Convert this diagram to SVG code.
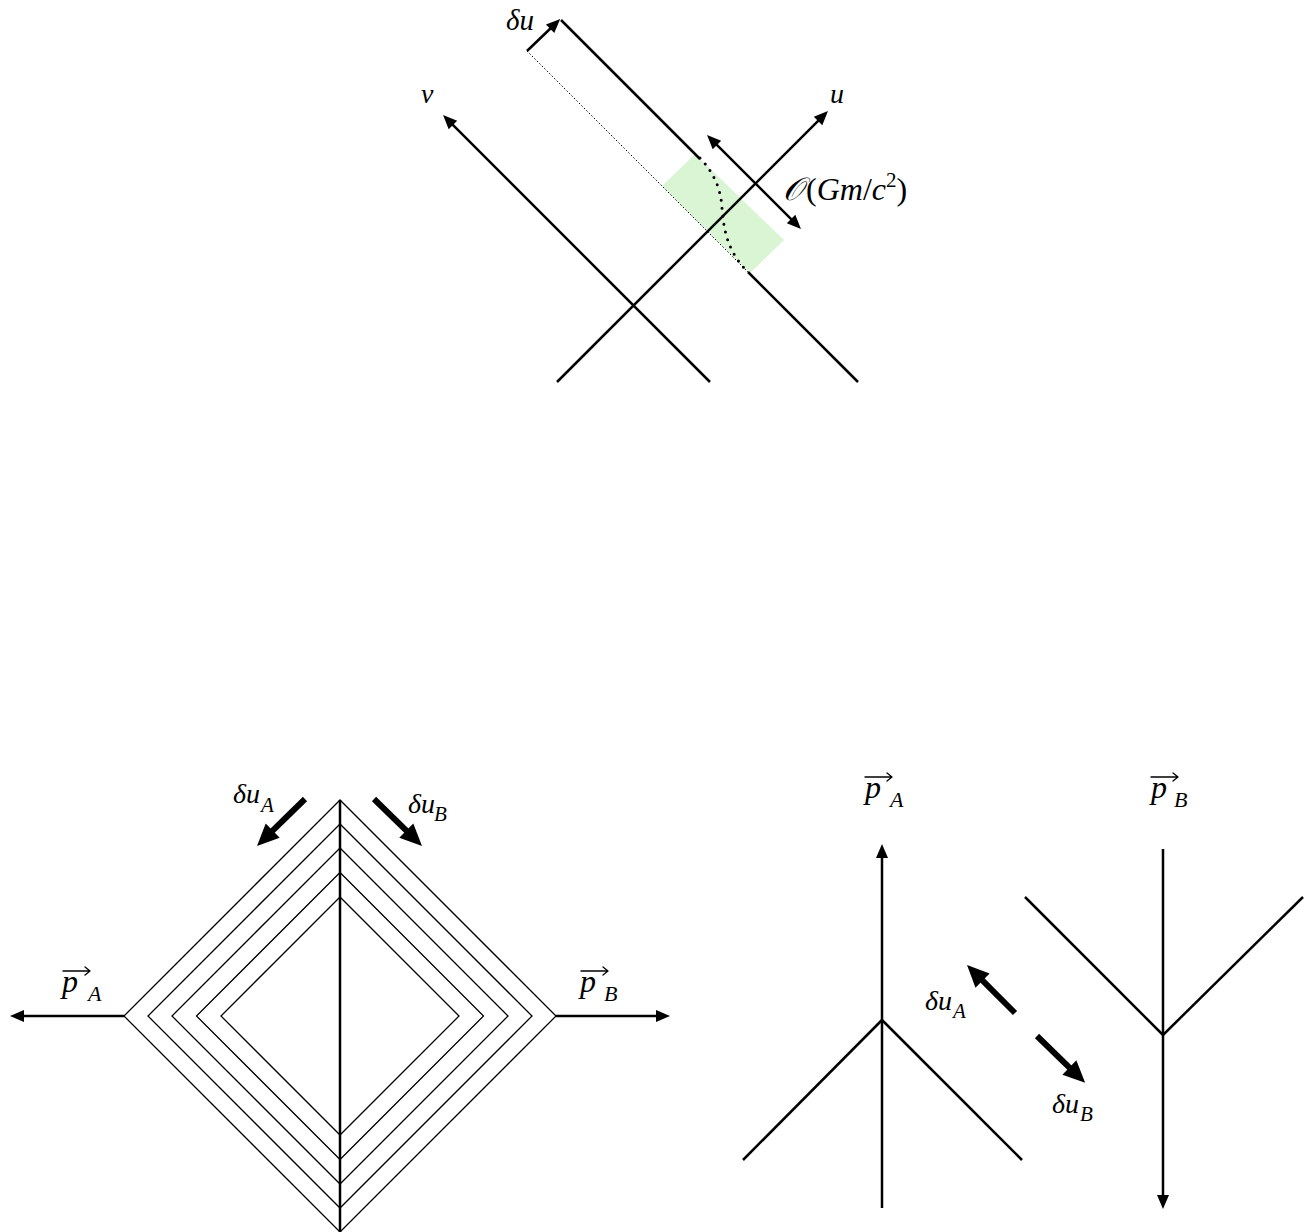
<svg xmlns="http://www.w3.org/2000/svg" width="1307" height="1232" viewBox="0 0 1307 1232">
<defs>
<style>
.ln{stroke:#000;stroke-width:2.5;fill:none}
.thin{stroke:#000;stroke-width:1.3;fill:none}
.thick{stroke:#000;stroke-width:6;fill:none}
.vec{stroke:#000;stroke-width:1.3;fill:none;stroke-linecap:round;stroke-linejoin:round}
.ar{marker-end:url(#ah)}
.tar{marker-end:url(#tah)}
.t{font-family:"Liberation Serif","DejaVu Serif",serif;font-style:italic;fill:#000}
.r{font-style:normal}
</style>
<marker id="ah" markerUnits="userSpaceOnUse" markerWidth="14" markerHeight="12" refX="4" refY="6" orient="auto-start-reverse" overflow="visible">
<path d="M0,0 L14,6 L0,12 Z" fill="#000"/>
</marker>
<marker id="tah" markerUnits="userSpaceOnUse" markerWidth="22" markerHeight="20" refX="8" refY="10" orient="auto" overflow="visible">
<path d="M0,0 L22,10 L0,20 Z" fill="#000"/>
</marker>
</defs>
<rect width="1307" height="1232" fill="#fff"/>

<g id="top-diagram">
<polygon id="green-region" points="695,154 784,240 750,273 662,186" fill="#daf5d4"/>
<g id="top-connectors">
<line class="ln ar" x1="557" y1="382" x2="820.9" y2="118.1"/>
<line class="ln ar" x1="710" y1="382" x2="450.1" y2="122.1"/>
<line class="ln" x1="561" y1="20" x2="700" y2="159"/>
<line class="ln" x1="748" y1="272" x2="858" y2="382"/>
<line x1="527" y1="51" x2="748" y2="272" stroke="#000" stroke-width="1" stroke-dasharray="1.5 2"/>
<path d="M700,158 C716,175 721,192 722,208 C724,232 728,252 748,272" fill="none" stroke="#000" stroke-width="3" stroke-linecap="round" stroke-dasharray="0 8"/>
<line class="ln ar" x1="527" y1="51" x2="553" y2="26"/>
<line class="ln ar" x1="714.1" y1="142.1" x2="793.9" y2="221.9" marker-start="url(#ah)"/>
</g>
<g id="top-labels">
<text class="t" x="506" y="30" font-size="29">δu</text>
<text class="t" x="830" y="103" font-size="28">u</text>
<text class="t" x="421" y="103" font-size="28">v</text>
<text class="t" x="783" y="200" font-size="32"><tspan>𝒪</tspan><tspan class="r" x="806">(</tspan>Gm<tspan class="r">/</tspan>c<tspan class="r" font-size="21" dy="-13">2</tspan><tspan class="r" dy="13">)</tspan></text>
</g>
</g>

<g id="left-diagram">
<g id="diamonds">
<polygon class="thin" points="340,800 124,1016 340,1232 556,1016"/>
<polygon class="thin" points="340,824 148,1016 340,1208 532,1016"/>
<polygon class="thin" points="340,848 172,1016 340,1184 508,1016"/>
<polygon class="thin" points="340,872.5 196.5,1016 340,1159.5 483.5,1016"/>
<polygon class="thin" points="340,897 221,1016 340,1135 459,1016"/>
</g>
<g id="left-connectors">
<line class="ln" x1="340" y1="800" x2="340" y2="1232" stroke-width="2.8"/>
<line class="ln ar" x1="124" y1="1016" x2="20" y2="1016"/>
<line class="ln ar" x1="556" y1="1016" x2="660" y2="1016"/>
<line class="thick tar" x1="305" y1="799" x2="267" y2="836.2"/>
<line class="thick tar" x1="374" y1="799" x2="412" y2="836.2"/>
</g>
<g id="left-labels">
<text class="t" x="233" y="803" font-size="28">δu<tspan x="261" y="812" font-size="21">A</tspan></text>
<text class="t" x="408" y="813" font-size="28">δu<tspan x="434" y="821" font-size="21">B</tspan></text>
<path class="vec" d="M63,971 H90 M85,967 L90,971 L85,975"/>
<text class="t" x="62" y="992" font-size="32">p<tspan x="88" y="1001" font-size="22">A</tspan></text>
<path class="vec" d="M581,971 H608 M603,967 L608,971 L603,975"/>
<text class="t" x="580" y="992" font-size="32">p<tspan x="604" y="1001" font-size="22">B</tspan></text>
</g>
</g>

<g id="right-diagram">
<g id="right-connectors">
<line class="ln ar" x1="882" y1="1208" x2="882" y2="854"/>
<line class="ln" x1="882" y1="1020" x2="743" y2="1160"/>
<line class="ln" x1="882" y1="1020" x2="1022" y2="1160"/>
<line class="ln ar" x1="1163" y1="849" x2="1163" y2="1199"/>
<line class="ln" x1="1163" y1="1035" x2="1025" y2="897"/>
<line class="ln" x1="1163" y1="1035" x2="1303" y2="897"/>
<line class="thick tar" x1="1015" y1="1013" x2="976.9" y2="974.9"/>
<line class="thick tar" x1="1037" y1="1036" x2="1075.1" y2="1073.1"/>
</g>
<g id="right-labels">
<path class="vec" d="M865,777 H892 M887,773 L892,777 L887,781"/>
<text class="t" x="865" y="798" font-size="32">p<tspan x="890" y="807" font-size="22">A</tspan></text>
<path class="vec" d="M1151,777 H1178 M1173,773 L1178,777 L1173,781"/>
<text class="t" x="1151" y="798" font-size="32">p<tspan x="1174" y="807" font-size="22">B</tspan></text>
<text class="t" x="925" y="1010" font-size="28">δu<tspan x="953" y="1018" font-size="21">A</tspan></text>
<text class="t" x="1052" y="1113" font-size="28">δu<tspan x="1080" y="1121" font-size="21">B</tspan></text>
</g>
</g>
</svg>
